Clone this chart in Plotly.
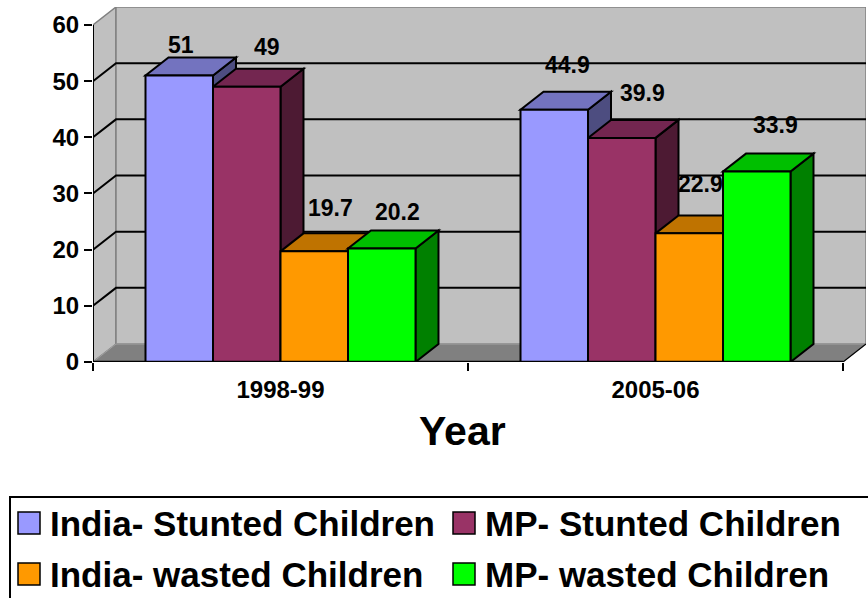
import plotly.graph_objects as go

# ---- data ----
years = ["1998-99", "2005-06"]
series_names = [
    "India- Stunted Children",
    "MP- Stunted Children",
    "India- wasted Children",
    "MP- wasted Children",
]
india_stunted = [51, 44.9]
mp_stunted = [49, 39.9]
india_wasted = [19.7, 22.9]
mp_wasted = [20.2, 33.9]
y_ticks = [0, 10, 20, 30, 40, 50, 60]

series_values = [india_stunted, mp_stunted, india_wasted, mp_wasted]

# ---- styling ----
front_colors = ["#9999FF", "#993366", "#FF9900", "#00FF00"]
top_colors = ["#7373BF", "#732650", "#BF7300", "#00BF00"]
side_colors = ["#4D4D80", "#4D1A33", "#804D00", "#008000"]
# pixel nudges for the value labels (per series, per year)
label_nudge = [
    [(2, 31), (13, 45)],
    [(20, 40), (21, 45)],
    [(16, 43), (11, 49)],
    [(16, 37), (19, 47)],
]

FONT = "Liberation Sans, Arial, sans-serif"
BAR_W = 0.18            # bar width in category units
DX, DY = 0.0613, 3.2    # 3-D depth offset (category units, value units)
Y_MAX = y_ticks[-1]
X0, X1 = -0.5, len(years) - 0.5

W, H = 868, 598
ML, MR, MT, MB = 93, 2, 7, 236
PW, PH = W - ML - MR, H - MT - MB


def px_x(p):
    return (p - ML) / PW


def px_y(p):
    return (H - MB - p) / PH


def path(pts, close=True):
    s = "M " + " L ".join(f"{x},{y}" for x, y in pts)
    return s + (" Z" if close else "")


def poly(pts, fill, line_color, width, close=True, layer="below"):
    return dict(type="path", path=path(pts, close), xref="x", yref="y",
                fillcolor=fill, line=dict(color=line_color, width=width),
                layer=layer)


shapes = []
# side wall, back wall, floor
shapes.append(poly([(X0, 0), (X0, Y_MAX), (X0 + DX, Y_MAX + DY), (X0 + DX, DY)],
                   "#C0C0C0", "#808080", 1.5))
shapes.append(poly([(X0 + DX, DY), (X1 + DX, DY), (X1 + DX, Y_MAX + DY), (X0 + DX, Y_MAX + DY)],
                   "#C0C0C0", "#808080", 1.5))
shapes.append(poly([(X0, 0), (X1, 0), (X1 + DX, DY), (X0 + DX, DY)],
                   "#808080", "#A0A0A0", 1))
shapes.append(poly([(X1, 0), (X1 + DX, DY)], "rgba(0,0,0,0)", "black", 1.2, close=False))

# gridlines on side and back walls
for v in y_ticks[1:-1]:
    shapes.append(poly([(X0, v), (X0 + DX, v + DY), (X1 + DX, v + DY)],
                       "rgba(0,0,0,0)", "black", 2, close=False))

# bar side faces, then top faces (front faces are the bar traces)
side_shapes, top_shapes = [], []
for i, vals in enumerate(series_values):
    for c, v in enumerate(vals):
        left = c - 2 * BAR_W + i * BAR_W
        right = left + BAR_W
        side_shapes.append(poly([(right, 0), (right, v), (right + DX, v + DY), (right + DX, DY)],
                                side_colors[i], "black", 2))
        top_shapes.append(poly([(left, v), (right, v), (right + DX, v + DY), (left + DX, v + DY)],
                               top_colors[i], "black", 2))
shapes += side_shapes + top_shapes

# front axis lines
shapes.append(poly([(X0, 0), (X0, Y_MAX)], "rgba(0,0,0,0)", "black", 2, close=False, layer="above"))
shapes.append(poly([(X0, 0), (X1, 0)], "rgba(0,0,0,0)", "black", 2.5, close=False, layer="above"))

fig = go.Figure()
for i, vals in enumerate(series_values):
    fig.add_trace(go.Bar(
        x=list(range(len(years))), y=vals, name=series_names[i],
        width=BAR_W, offset=-2 * BAR_W + i * BAR_W,
        marker=dict(color=front_colors[i], line=dict(color="black", width=2)),
        showlegend=False,
    ))

annotations = []
# value labels
for i, vals in enumerate(series_values):
    for c, v in enumerate(vals):
        xs, ys = label_nudge[i][c]
        annotations.append(dict(
            x=c - 2 * BAR_W + i * BAR_W + BAR_W / 2, y=v, xref="x", yref="y",
            text=f"{v:g}", showarrow=False, xshift=xs, yshift=ys,
            font=dict(family=FONT, size=23, color="black", weight="bold"),
        ))

# axis title
annotations.append(dict(
    x=(X0 + X1) / 2, y=px_y(431), xref="x", yref="paper", text="Year",
    showarrow=False, yanchor="middle", xshift=-6,
    font=dict(family=FONT, size=41, color="black", weight="bold"),
))

# legend box with two columns
shapes.append(dict(type="rect", xref="paper", yref="paper",
                   x0=px_x(10), x1=px_x(900), y0=px_y(497), y1=px_y(640),
                   fillcolor="white", line=dict(color="black", width=2), layer="above"))
legend_cols = [18, 453]
legend_rows = [523, 574]
for i, name in enumerate(series_names):
    cx = legend_cols[i % 2]
    cy = legend_rows[i // 2]
    shapes.append(dict(type="rect", xref="paper", yref="paper",
                       x0=px_x(cx), x1=px_x(cx + 22), y0=px_y(cy + 11), y1=px_y(cy - 11),
                       fillcolor=front_colors[i], line=dict(color="black", width=1.5),
                       layer="above"))
    annotations.append(dict(
        x=px_x(cx + 30), y=px_y(cy), xref="paper", yref="paper", text=name,
        showarrow=False, xanchor="left", yanchor="middle",
        font=dict(family=FONT, size=35, color="black", weight="bold"),
    ))

fig.update_layout(
    width=W, height=H,
    margin=dict(l=ML, r=MR, t=MT, b=MB),
    paper_bgcolor="white", plot_bgcolor="white",
    barmode="overlay", showlegend=False,
    shapes=shapes, annotations=annotations,
    font=dict(family=FONT, color="black"),
)
fig.update_xaxes(
    range=[X0, X1 + DX], tickvals=list(range(len(years))), ticktext=years,
    ticks="", showgrid=False, zeroline=False, showline=False,
    tickfont=dict(family=FONT, size=24, color="black", weight="bold"),
    ticklabelstandoff=11,
    minor=dict(tickvals=[X0 + k for k in range(len(years) + 1)], ticks="outside",
               ticklen=8, tickwidth=1.5, tickcolor="black", showgrid=False),
)
fig.update_yaxes(
    range=[0, Y_MAX + DY], tickvals=y_ticks, ticks="outside", ticklen=8,
    tickwidth=2, tickcolor="black", showgrid=False, zeroline=False, showline=False,
    tickfont=dict(family=FONT, size=24, color="black", weight="bold"),
)

fig.write_html("out.html")
